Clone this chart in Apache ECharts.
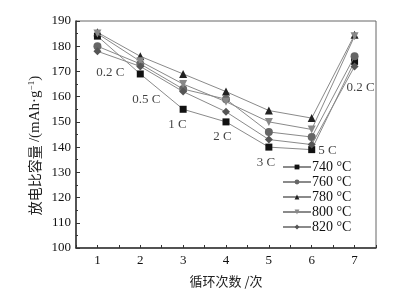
<!DOCTYPE html>
<html>
<head>
<meta charset="utf-8">
<script src="https://cdn.jsdelivr.net/npm/echarts@6/dist/echarts.min.js"></script>
<style>
  html, body { margin: 0; padding: 0; background: #fff; }
  #chart { width: 398px; height: 293px; }
</style>
</head>
<body>
<div id="chart"></div>
<script>
var cycles = [1, 2, 3, 4, 5, 6, 7];
var names = ['740 °C', '760 °C', '780 °C', '800 °C', '820 °C'];
var cap740 = [184, 169, 155, 150, 140, 139, 174];
var cap760 = [180, 173, 163, 159, 146, 144, 176];
var cap780 = [185.5, 176, 169, 162, 154.5, 151.5, 184.5];
var cap800 = [185, 174, 165, 158, 150, 147, 184];
var cap820 = [178, 172, 162, 154, 143, 141, 172];
var rateLabels = ['0.2 C', '0.5 C', '1 C', '2 C', '3 C', '5 C', '0.2 C'];
var rateX = [1.3, 2.14, 2.87, 3.92, 4.93, 6.37, 7.14];
var rateY = [169.5, 158.8, 149, 144.2, 134, 138.7, 163.5];

var serif = '"Liberation Serif", "Times New Roman", "DejaVu Serif", serif';
var cjk = '"Noto Sans CJK SC", sans-serif';
var allData = [cap740, cap760, cap780, cap800, cap820];
var symbols = ['rect', 'circle', 'triangle', 'triangle', 'diamond'];
var rotates = [0, 0, 0, 180, 0];
var colors = ['#111', '#666', '#222', '#888', '#555'];
var sizes = [7, 8, 8, 8, 8];

var chart = echarts.init(document.getElementById('chart'));

var series = allData.map(function (d, i) {
  return {
    name: names[i],
    type: 'line',
    symbol: symbols[i],
    symbolRotate: rotates[i],
    symbolSize: sizes[i],
    lineStyle: { color: '#8a8a8a', width: 1 },
    itemStyle: { color: colors[i] },
    z: 3 + i,
    data: d.map(function (v, j) { return [cycles[j], v]; })
  };
});

series.push({
  type: 'scatter',
  symbolSize: 0,
  silent: true,
  label: {
    show: true,
    position: 'inside',
    formatter: function (p) { return rateLabels[p.dataIndex]; },
    fontFamily: serif,
    fontSize: 13,
    color: '#111'
  },
  data: rateX.map(function (x, i) { return [x, rateY[i]]; })
});

var option = {
  backgroundColor: '#fff',
  animation: false,
  grid: {
    left: 76, top: 21, right: 22, bottom: 44,
    show: true, borderColor: '#666', borderWidth: 1
  },
  legend: {
    data: names,
    orient: 'vertical',
    left: 277,
    top: 155,
    itemWidth: 28,
    itemHeight: 6,
    itemGap: 1,
    textStyle: { fontFamily: serif, fontSize: 14, lineHeight: 13, color: '#111', padding: [0, 0, 0, -4] }
  },
  xAxis: {
    type: 'value',
    min: 0.5,
    max: 7.5,
    interval: 0.5,
    name: '循环次数 /次',
    nameLocation: 'middle',
    nameGap: 27,
    nameTextStyle: { fontFamily: cjk, fontSize: 13, color: '#222' },
    axisLine: { lineStyle: { color: '#333', width: 1.5 } },
    axisTick: { inside: true, length: 3, lineStyle: { color: '#333' } },
    axisLabel: {
      fontFamily: serif, fontSize: 13, color: '#111', margin: 6,
      formatter: function (v) { return Number.isInteger(v) ? String(v) : ''; }
    },
    splitLine: { show: false }
  },
  yAxis: {
    type: 'value',
    min: 100,
    max: 190,
    interval: 10,
    name: '{c|放电比容量 }{l|/(mAh·g}{s|−1}{l|)}',
    nameLocation: 'middle',
    nameGap: 33,
    nameMoveOverlap: false,
    nameTextStyle: {
      padding: [0, 0, 0, -22],
      rich: {
        c: { fontFamily: cjk, fontSize: 14, color: '#222' },
        l: { fontFamily: serif, fontSize: 15, color: '#222' },
        s: { fontFamily: serif, fontSize: 9, color: '#222', padding: [0, 0, 7, 0] }
      }
    },
    axisLine: { show: true, lineStyle: { color: '#333', width: 1.5 } },
    axisTick: { inside: true, length: 4, lineStyle: { color: '#333' } },
    minorTick: { show: true, splitNumber: 2, length: 2, lineStyle: { color: '#333' } },
    axisLabel: { fontFamily: serif, fontSize: 13, color: '#111', margin: 5 },
    splitLine: { show: false }
  },
  series: series
};

chart.setOption(option);
</script>
</body>
</html>
